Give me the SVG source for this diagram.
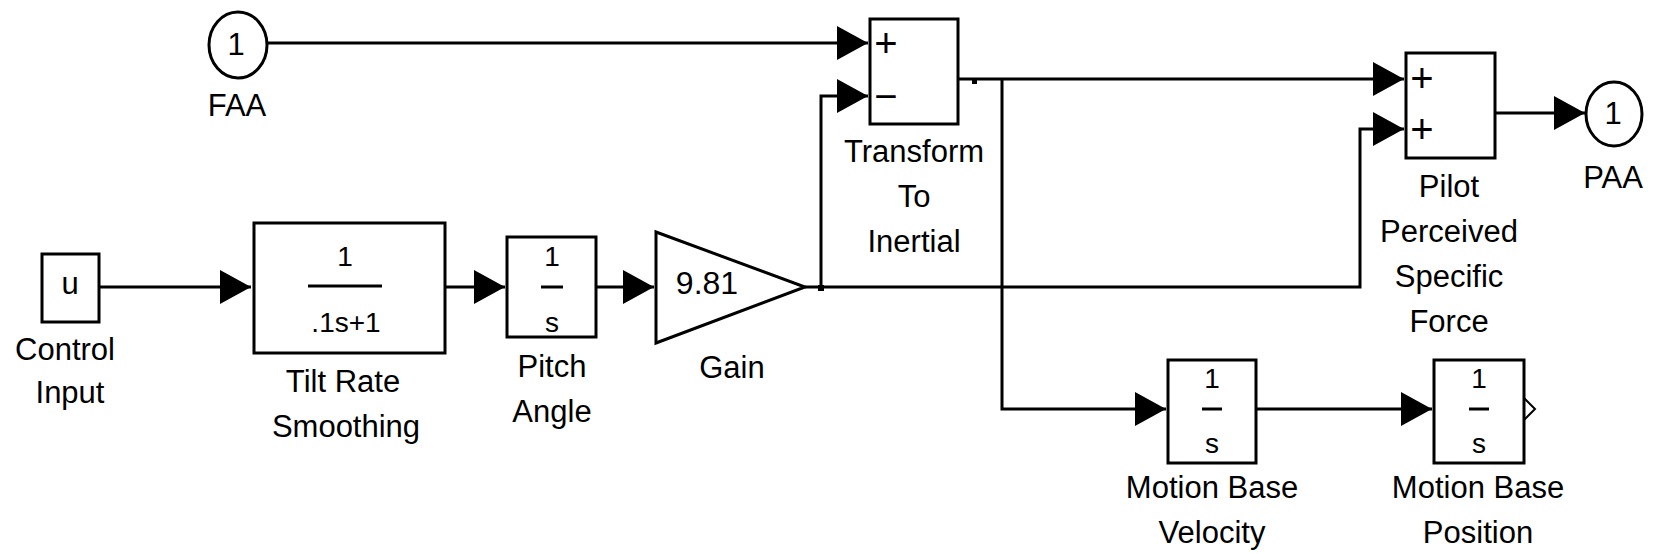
<svg xmlns="http://www.w3.org/2000/svg" width="1655" height="554" viewBox="0 0 1655 554">
<style>
text{font-family:"Liberation Sans",Arial,sans-serif;fill:#000;text-anchor:middle}
.lbl{font-size:31px}
.frac{font-size:28px}
.sign{font-size:40px}
.blk{fill:#fff;stroke:#000;stroke-width:3}
.ln{fill:none;stroke:#000;stroke-width:3}
.wire{fill:none;stroke:#000;stroke-width:3;marker-end:url(#arr)}
</style>
<defs>
<marker id="arr" markerUnits="userSpaceOnUse" markerWidth="32" markerHeight="36" refX="31" refY="17" orient="auto" viewBox="0 0 32 36">
<path d="M0,0 L31,17 L0,34 Z" fill="#000"/>
</marker>
</defs>
<rect width="1655" height="554" fill="#fff"/>
<g id="connectors">
<path class="wire" d="M267,43 H868"/>
<path class="wire" d="M821,287 V96 H868"/>
<path class="wire" d="M99,287 H251"/>
<path class="wire" d="M445,287 H505"/>
<path class="wire" d="M596,287 H654"/>
<path class="wire" d="M805,287 H1360 V129 H1404"/>
<path class="wire" d="M958,79 H1404"/>
<path class="wire" d="M1002,79 V409 H1166"/>
<path class="wire" d="M1256,409 H1432"/>
<path class="wire" d="M1495,113 H1585"/>
<rect x="972" y="79" width="5" height="5" fill="#000"/>
<rect x="818" y="285" width="6" height="6" fill="#000"/>
</g>
<g id="faa">
<ellipse class="blk" cx="238" cy="45" rx="29" ry="33"/>
<text class="lbl" x="236" y="55">1</text>
<text class="lbl" x="237" y="116">FAA</text>
</g>
<g id="control-input">
<rect class="blk" x="42" y="254" width="57" height="68"/>
<text class="lbl" x="70" y="294">u</text>
<text class="lbl" x="65" y="360">Control</text>
<text class="lbl" x="70" y="403">Input</text>
</g>
<g id="tilt-rate-smoothing">
<rect class="blk" x="254" y="223" width="191" height="130"/>
<text class="frac" x="345" y="266">1</text>
<line class="ln" x1="308" y1="286" x2="382" y2="286"/>
<text class="frac" x="346" y="332">.1s+1</text>
<text class="lbl" x="343" y="392">Tilt Rate</text>
<text class="lbl" x="346" y="437">Smoothing</text>
</g>
<g id="pitch-angle">
<rect class="blk" x="507" y="237" width="89" height="100"/>
<text class="frac" x="552" y="266">1</text>
<line class="ln" x1="541" y1="287" x2="563" y2="287"/>
<text class="frac" x="552" y="332">s</text>
<text class="lbl" x="552" y="377">Pitch</text>
<text class="lbl" x="552" y="422">Angle</text>
</g>
<g id="gain">
<path class="blk" d="M656,232 L805,287 L656,343 Z"/>
<text class="lbl" x="707" y="294" style="font-size:32px">9.81</text>
<text class="lbl" x="732" y="378">Gain</text>
</g>
<g id="transform-to-inertial">
<rect class="blk" x="870" y="19" width="88" height="105"/>
<text class="sign" x="886" y="57">+</text>
<text class="sign" x="886" y="110">−</text>
<text class="lbl" x="914" y="162">Transform</text>
<text class="lbl" x="914" y="207">To</text>
<text class="lbl" x="914" y="252">Inertial</text>
</g>
<g id="pilot-perceived-specific-force">
<rect class="blk" x="1406" y="53" width="89" height="105"/>
<text class="sign" x="1422" y="92">+</text>
<text class="sign" x="1422" y="143">+</text>
<text class="lbl" x="1449" y="197">Pilot</text>
<text class="lbl" x="1449" y="242">Perceived</text>
<text class="lbl" x="1449" y="287">Specific</text>
<text class="lbl" x="1449" y="332">Force</text>
</g>
<g id="paa">
<ellipse class="blk" cx="1614" cy="114" rx="28" ry="32"/>
<text class="lbl" x="1613" y="124">1</text>
<text class="lbl" x="1613" y="188">PAA</text>
</g>
<g id="motion-base-velocity">
<rect class="blk" x="1168" y="360" width="88" height="103"/>
<text class="frac" x="1212" y="388">1</text>
<line class="ln" x1="1202" y1="409" x2="1222" y2="409"/>
<text class="frac" x="1212" y="453">s</text>
<text class="lbl" x="1212" y="498">Motion Base</text>
<text class="lbl" x="1212" y="543">Velocity</text>
</g>
<g id="motion-base-position">
<rect class="blk" x="1434" y="360" width="90" height="103"/>
<text class="frac" x="1479" y="388">1</text>
<line class="ln" x1="1469" y1="409" x2="1489" y2="409"/>
<text class="frac" x="1479" y="453">s</text>
<polyline points="1524,398 1535,409 1524,420" fill="none" stroke="#000" stroke-width="2"/>
<text class="lbl" x="1478" y="498">Motion Base</text>
<text class="lbl" x="1478" y="543">Position</text>
</g>
</svg>
